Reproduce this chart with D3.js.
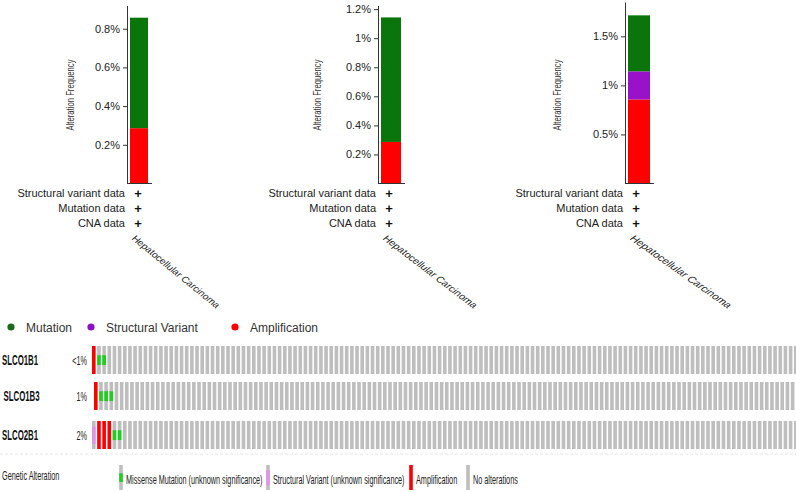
<!DOCTYPE html>
<html>
<head>
<meta charset="utf-8">
<script src="https://cdn.jsdelivr.net/npm/d3@7"></script>
<style>
  html, body { margin: 0; padding: 0; background: #fff; }
  svg { display: block; font-family: "Liberation Sans", Arial, sans-serif; }
</style>
</head>
<body>
<svg id="chart" width="796" height="492"></svg>
<script>
// bar charts (alteration frequency, %)
const cancerType = "Hepatocellular Carcinoma";
const chartGenes = ["SLCO1B1", "SLCO1B3", "SLCO2B1"];
const ampFreq = [0.286, 0.286, 0.857];
const svFreq = [0, 0, 0.286];
const mutFreq = [0.571, 0.857, 0.571];
const yMax = [0.92, 1.225, 1.85];
const yTicks = [[0.2, 0.4, 0.6, 0.8], [0.2, 0.4, 0.6, 0.8, 1, 1.2], [0.5, 1, 1.5]];
const dataTypes = ["Structural variant data", "Mutation data", "CNA data"];

// top legend
const topLegend = ["Mutation", "Structural Variant", "Amplification"];

// oncoprint
const oncoGenes = ["SLCO1B1", "SLCO1B3", "SLCO2B1"];
const oncoPct = ["<1%", "1%", "2%"];
const oncoAltered = [
    ["amp", "missense", "missense"],
    ["amp", "missense", "missense", "missense"],
    ["sv", "amp", "amp", "amp", "missense", "missense"]
];
const oncoSamples = 137;
const oncoLegend = [
    ["missense", "Missense Mutation (unknown significance)"],
    ["sv", "Structural Variant (unknown significance)"],
    ["amp", "Amplification"],
    ["none", "No alterations"]
];

// layout / style
const charts = [
    {axisX: 127, barW: 18, baseEnd: 152, labX: 70, capSx: 0.95},
    {axisX: 378, barW: 20, baseEnd: 405, labX: 317, capSx: 1.02},
    {axisX: 625, barW: 22, baseEnd: 654, labX: 557, capSx: 1.1}
];
const Y0 = 183.5, YTOP = [5.5, 5.5, 2];
const barColors = {amp: "#ff0000", sv: "#9a12c8", mut: "#0a750a"};
const dotColors = ["#1c6b1c", "#8a12c0", "#ff0000"];
const oncoColors = {none: "#bebebe", missense: "#1ecf1e", sv: "#e194ea", amp: "#ff0000"};
const rowTop = [346, 382, 421], rowX0 = [92, 94, 92], rowH = 28, pitch = 5.15;
const SQ = 0.56; // oncoprint text is horizontally squeezed

const svg = d3.select("#chart");

function squeezed(x, y, txt, size, opts) {
    opts = opts || {};
    const g = svg.append("g").attr("transform", `translate(${x},${y}) scale(${opts.sx || SQ},1)`);
    return g.append("text")
        .attr("font-size", size)
        .attr("font-weight", opts.bold ? "bold" : null)
        .attr("text-anchor", opts.anchor || "start")
        .attr("fill", opts.fill || "#222")
        .text(txt);
}

// ---- the three frequency bar charts
charts.forEach(function(c, i) {
    const y = d3.scaleLinear().domain([0, yMax[i]]).range([Y0, YTOP[i]]);
    const x = d3.scaleBand().domain([cancerType]).range([c.axisX + 3, c.axisX + 3 + c.barW]);

    const row = {amp: ampFreq[i], sv: svFreq[i], mut: mutFreq[i]};
    const stack = d3.stack().keys(["amp", "sv", "mut"])([row]);
    svg.append("g").selectAll("rect")
        .data(stack)
        .join("rect")
        .attr("x", x(cancerType))
        .attr("width", x.bandwidth())
        .attr("y", d => y(d[0][1]))
        .attr("height", d => y(d[0][0]) - y(d[0][1]))
        .attr("fill", d => barColors[d.key]);

    const ax = svg.append("g")
        .attr("transform", `translate(${c.axisX},0)`)
        .call(d3.axisLeft(y).tickValues(yTicks[i]).tickFormat(d => d + "%")
            .tickSize(4).tickSizeOuter(0).tickPadding(3));
    ax.select(".domain").attr("stroke", "#333");
    ax.selectAll(".tick line").attr("stroke", "#333");
    ax.selectAll(".tick text").attr("font-size", 11).attr("fill", "#222")
        .attr("font-family", "Liberation Sans, Arial, sans-serif");

    svg.append("line")
        .attr("x1", c.axisX).attr("x2", c.baseEnd)
        .attr("y1", Y0).attr("y2", Y0)
        .attr("stroke", "#333");

    svg.append("g")
        .attr("transform", `translate(${c.labX + 3.5},95) rotate(-90) scale(0.7,1)`)
        .append("text")
        .attr("text-anchor", "middle")
        .attr("font-size", 11)
        .attr("fill", "#333")
        .text("Alteration Frequency");

    dataTypes.forEach(function(t, k) {
        const ty = 193 + k * 15;
        svg.append("text")
            .attr("x", c.axisX - 2).attr("y", ty + 4)
            .attr("text-anchor", "end")
            .attr("font-size", 11)
            .attr("fill", "#222")
            .text(t);
        svg.append("text")
            .attr("x", c.axisX + 11).attr("y", ty + 4.5)
            .attr("text-anchor", "middle")
            .attr("font-size", 13)
            .attr("font-weight", "bold")
            .attr("fill", "#111")
            .text("+");
    });

    svg.append("g")
        .attr("transform", `translate(${c.axisX + 4},239) scale(${c.capSx},0.78) rotate(45)`)
        .append("text")
        .attr("font-size", 11)
        .attr("fill", "#222")
        .text(cancerType);
});

// ---- top legend
const legX = [11, 91, 235];
topLegend.forEach(function(t, i) {
    svg.append("circle").attr("cx", legX[i]).attr("cy", 327).attr("r", 3.6).attr("fill", dotColors[i]);
    svg.append("text")
        .attr("x", legX[i] + 15).attr("y", 331.5)
        .attr("font-size", 12)
        .attr("fill", "#333")
        .text(t);
});

// ---- oncoprint rows
function glyph(g, type, x, top, h, w) {
    const base = type === "amp" ? oncoColors.amp : oncoColors.none;
    g.append("rect").attr("x", x).attr("y", top).attr("width", w).attr("height", h).attr("fill", base);
    if (type === "missense") {
        g.append("rect").attr("x", x).attr("y", top + h * 0.33).attr("width", w)
            .attr("height", h * 0.35).attr("fill", oncoColors.missense);
    } else if (type === "sv") {
        g.append("rect").attr("x", x).attr("y", top + h * 0.2).attr("width", w)
            .attr("height", h * 0.62).attr("fill", oncoColors.sv);
    }
}

oncoGenes.forEach(function(gene, r) {
    const cols = d3.range(oncoSamples);
    const x = d3.scaleBand().domain(cols)
        .range([rowX0[r], rowX0[r] + oncoSamples * pitch]).paddingInner(0.3).paddingOuter(0);
    const g = svg.append("g");
    cols.forEach(function(c) {
        const type = c < oncoAltered[r].length ? oncoAltered[r][c] : "none";
        glyph(g, type, x(c), rowTop[r], rowH, x.bandwidth());
    });

    const cy = rowTop[r] + rowH / 2;
    squeezed(r === 1 ? 3.5 : 2, cy + 5, gene, 14, {bold: true, fill: "#111"});
    squeezed(87, cy + 4.5, oncoPct[r], 13, {anchor: "end"});
});

// ---- oncoprint legend
svg.append("line")
    .attr("x1", 0).attr("x2", 796).attr("y1", 454).attr("y2", 454)
    .attr("stroke", "#e6e6e6").attr("stroke-dasharray", "3,2");

squeezed(2, 480, "Genetic Alteration", 13, {fill: "#222"});
const oncoLegX = [121, 268, 411, 468];
oncoLegend.forEach(function(d, i) {
    glyph(svg.append("g"), d[0], oncoLegX[i] - 1.8, 465, 25, 3.6);
    squeezed(oncoLegX[i] + 5, 484, d[1], 13, {fill: "#222"});
});
</script>
</body>
</html>
